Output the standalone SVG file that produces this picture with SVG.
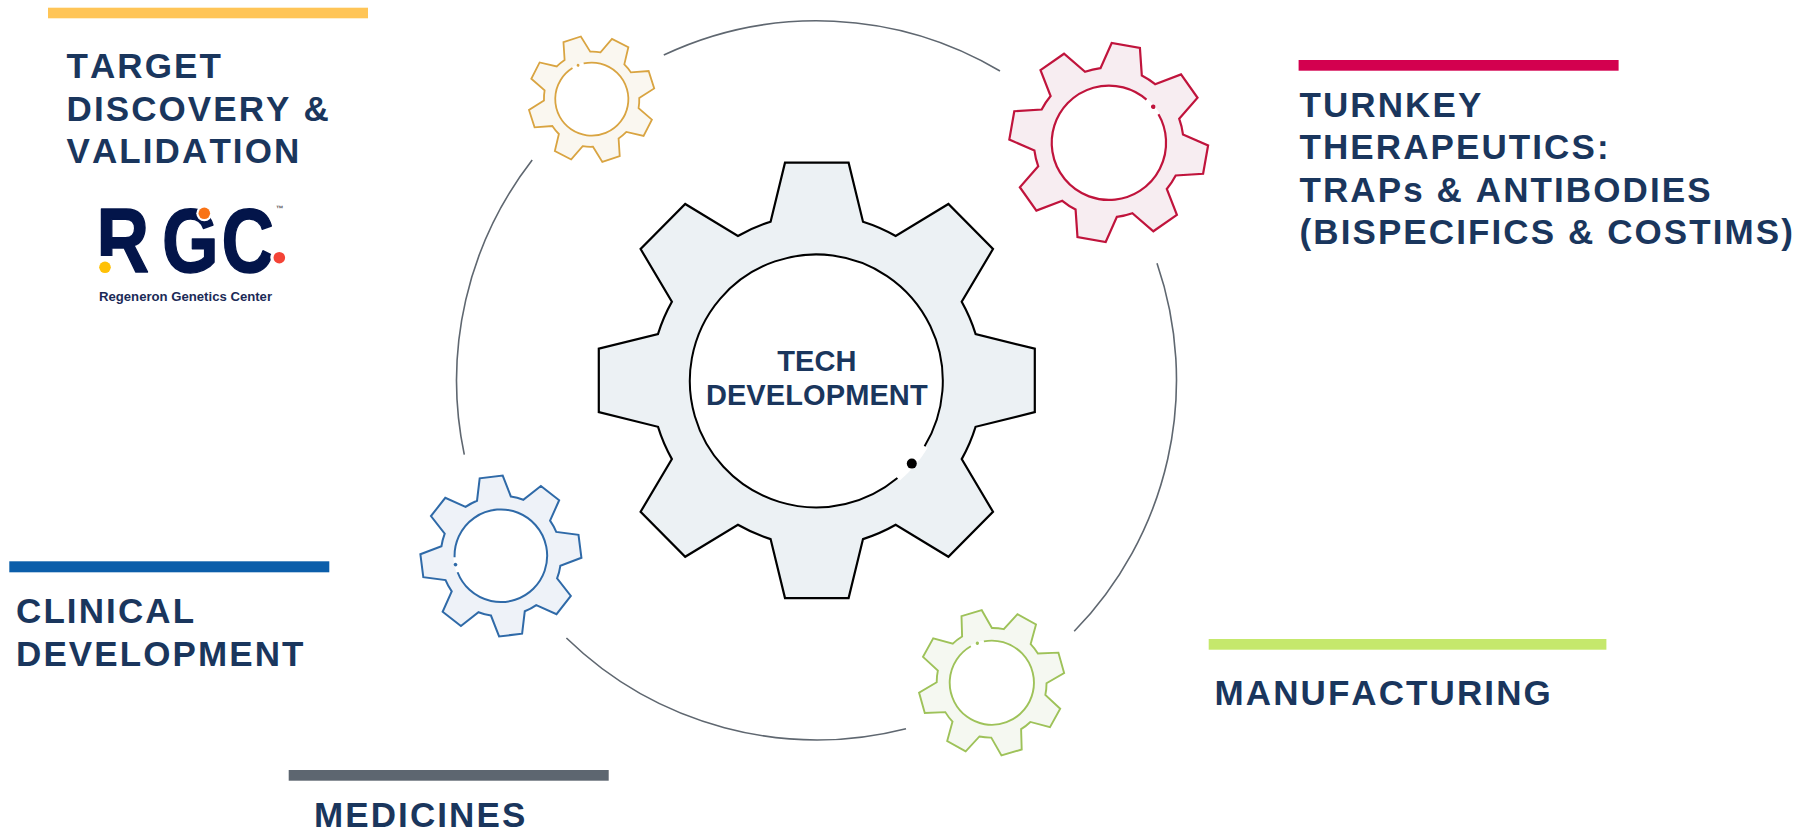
<svg xmlns="http://www.w3.org/2000/svg" xmlns:xlink="http://www.w3.org/1999/xlink" width="1818" height="836" viewBox="0 0 1818 836">
<style>
.lbl{font-family:"Liberation Sans",Arial,sans-serif;font-weight:700;font-size:35px;letter-spacing:2.1px;font-kerning:none;fill:#1a365d}
.ctr{font-family:"Liberation Sans",Arial,sans-serif;font-weight:700;font-size:29px;letter-spacing:.1px;fill:#1a365d;text-anchor:middle}
.arc{fill:none;stroke:#5f6770;stroke-width:1.6}
.s{vector-effect:non-scaling-stroke}
</style>
<defs>
<path id="gear" class="s" d="M-31.8-217.7H31.8L46.2-158.7A165 165 0 0 1 78.9-144.4L131.6-176.4 176.2-131.4 144.9-78.7A165 165 0 0 1 158.8-46.4L218-31.7V31.7L158.8 46.4A165 165 0 0 1 144.9 78.7L176.2 131.4 131.6 176.4 78.9 144.4A165 165 0 0 1 46.2 158.7L31.8 217.7H-31.8L-46.2 158.7A165 165 0 0 1-78.9 144.4L-131.6 176.4-176.2 131.4-144.9 78.7A165 165 0 0 1-158.8 46.4L-218 31.7V-31.7L-158.8-46.4A165 165 0 0 1-144.9-78.7L-176.2-131.4-131.6-176.4-78.9-144.4A165 165 0 0 1-46.2-158.7Z"/>
<g id="hole">
<circle r="126.5" fill="#fff"/>
<path d="M107.8 65.9A126.5 126.5 0 0 1 80.6 97.6" fill="none" stroke="#fff" stroke-width="7"/>
</g>
<path id="ring" class="s" fill="none" d="M107.8 65.9A126.5 126.5 0 1 0 80.6 97.6"/>
<circle id="dot" cx="95" cy="83.2" r="5"/>
</defs>
<g id="connectors">
<path class="arc" d="M663.8 55A359.6 359.6 0 0 1 1000 71"/>
<path class="arc" d="M1157 263.3A359.6 359.6 0 0 1 1074.2 631.3"/>
<path class="arc" d="M906 728.7A359.6 359.6 0 0 1 566.4 638"/>
<path class="arc" d="M464.3 454.7A359.6 359.6 0 0 1 532.2 160"/>
</g>
<g id="gear-tech" transform="translate(816.8 380.4)">
<use xlink:href="#gear" href="#gear" fill="#ecf1f4" stroke="#000" stroke-width="2.2"/>
<use xlink:href="#hole" href="#hole"/>
<use xlink:href="#ring" href="#ring" stroke="#000" stroke-width="2"/>
<use xlink:href="#dot" href="#dot" fill="#000"/>
<text class="ctr" x="0" y="-9.5">TECH</text>
<text class="ctr" x="0" y="25">DEVELOPMENT</text>
</g>
<g id="gear-target" transform="translate(591.6 99.2) rotate(-153) scale(.289)">
<use xlink:href="#gear" href="#gear" fill="#faf7f0" stroke="#d9a441" stroke-width="1.8"/>
<use xlink:href="#hole" href="#hole"/>
<use xlink:href="#ring" href="#ring" stroke="#d9a441" stroke-width="1.8"/>
<use xlink:href="#dot" href="#dot" fill="#d9a441"/>
</g>
<g id="gear-turnkey" transform="translate(1108.7 142.5) rotate(-80) scale(.452)">
<use xlink:href="#gear" href="#gear" fill="#f7edf1" stroke="#c0143c" stroke-width="2.2"/>
<use xlink:href="#hole" href="#hole"/>
<use xlink:href="#ring" href="#ring" stroke="#c0143c" stroke-width="2.2"/>
<use xlink:href="#dot" href="#dot" fill="#c0143c"/>
</g>
<g id="gear-clinical" transform="translate(500.9 556) rotate(128) scale(.366)">
<use xlink:href="#gear" href="#gear" fill="#eef2f8" stroke="#2f6aa8" stroke-width="2"/>
<use xlink:href="#hole" href="#hole"/>
<use xlink:href="#ring" href="#ring" stroke="#2f6aa8" stroke-width="2"/>
<use xlink:href="#dot" href="#dot" fill="#2f6aa8"/>
</g>
<g id="gear-manufacturing" transform="translate(991.6 682.8) rotate(-151) scale(.333)">
<use xlink:href="#gear" href="#gear" fill="#f5f8f1" stroke="#9ec259" stroke-width="1.9"/>
<use xlink:href="#hole" href="#hole"/>
<use xlink:href="#ring" href="#ring" stroke="#9ec259" stroke-width="1.9"/>
<use xlink:href="#dot" href="#dot" fill="#9ec259"/>
</g>
<g id="node-target">
<rect x="48" y="7.7" width="320" height="10.6" fill="#ffc557"/>
<text class="lbl" x="66.5" y="77.7">TARGET</text>
<text class="lbl" x="66.5" y="120.7">DISCOVERY &amp;</text>
<text class="lbl" x="66.5" y="163.3">VALIDATION</text>
</g>
<g id="logo-rgc">
<text transform="translate(0 272) scale(.8 1)" x="120.5 202.5 277" y="0" font-family="'Liberation Sans',sans-serif" font-weight="700" font-size="91" fill="#03154a" stroke="#03154a" stroke-width="1.5" stroke-linejoin="round">RGC</text>
<rect x="96" y="256" width="21" height="20" fill="#fff"/>
<circle cx="204.3" cy="213.3" r="8" fill="#fff"/>
<circle cx="279.3" cy="257.7" r="9" fill="#fff"/>
<circle cx="105" cy="267.3" r="5.8" fill="#ffc107"/>
<circle cx="204.3" cy="213.3" r="5.8" fill="#f97316"/>
<circle cx="279.3" cy="257.7" r="5.8" fill="#f44336"/>
<text x="276" y="211" font-family="'Liberation Sans',sans-serif" font-weight="700" font-size="7.5" fill="#555">™</text>
<text x="99" y="300.7" font-family="'Liberation Sans',sans-serif" font-weight="700" font-size="13" fill="#1b2a57" textLength="173" lengthAdjust="spacingAndGlyphs">Regeneron Genetics Center</text>
</g>
<g id="node-turnkey">
<rect x="1298.6" y="60" width="320" height="10.7" fill="#d3004f"/>
<text class="lbl" x="1299.5" y="116.7">TURNKEY</text>
<text class="lbl" x="1299.5" y="158.7">THERAPEUTICS:</text>
<text class="lbl" x="1299.5" y="201.7">TRAPs &amp; ANTIBODIES</text>
<text class="lbl" x="1299.5" y="244.3">(BISPECIFICS &amp; COSTIMS)</text>
</g>
<g id="node-clinical">
<rect x="9.3" y="561.3" width="320" height="11" fill="#0b5eaa"/>
<text class="lbl" x="16" y="623.3">CLINICAL</text>
<text class="lbl" x="16" y="666.3">DEVELOPMENT</text>
</g>
<g id="node-medicines">
<rect x="288.7" y="770" width="320" height="10.7" fill="#5d6670"/>
<text class="lbl" x="314" y="827.3">MEDICINES</text>
</g>
<g id="node-manufacturing">
<rect x="1208.7" y="639" width="397.7" height="10.7" fill="#c5e86c"/>
<text class="lbl" x="1214.5" y="704.7">MANUFACTURING</text>
</g>
</svg>
